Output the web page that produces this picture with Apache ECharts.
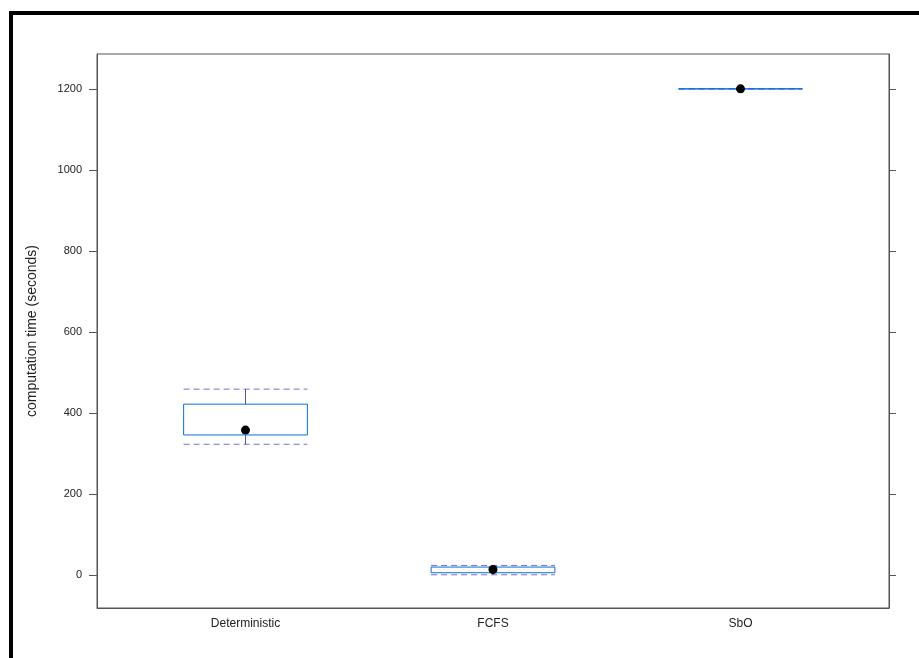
<!DOCTYPE html>
<html>
<head>
<meta charset="utf-8">
<script src="https://cdn.jsdelivr.net/npm/echarts@6/dist/echarts.min.js"></script>
<style>
html,body{margin:0;padding:0;background:#fff;}
#chart{width:919px;height:658px;}
</style>
</head>
<body>
<div id="chart"></div>
<script>
const categories = ['Deterministic', 'FCFS', 'SbO'];
const whiskerLow = [323, 1, 1200];
const q1 = [346, 6, 1200];
const median = [358, 14, 1200];
const q3 = [422, 20, 1200];
const whiskerHigh = [459, 24, 1200];
const yTicks = [0, 200, 400, 600, 800, 1000, 1200];

const boxData = categories.map((c, i) => [i + 1, whiskerLow[i], q1[i], median[i], q3[i], whiskerHigh[i]]);

const chart = echarts.init(document.getElementById('chart'));
const AX = '#555';
const FONT = 'Liberation Sans, Arial, sans-serif';
const option = {
  backgroundColor: '#fff',
  animation: false,
  grid: { left: 97, right: 30, top: 54, bottom: 50, show: true, borderColor: AX, borderWidth: 1, backgroundColor: 'transparent' },
  graphic: [
    { type: 'rect', shape: { x: 9, y: 11, width: 910, height: 4 }, style: { fill: '#000' }, z: 100 },
    { type: 'rect', shape: { x: 9, y: 11, width: 4, height: 647 }, style: { fill: '#000' }, z: 100 }
  ],
  xAxis: {
    type: 'value', min: 0.4, max: 3.6,
    axisLine: { show: true, onZero: false, lineStyle: { color: AX } },
    axisTick: { show: false },
    splitLine: { show: false },
    axisLabel: {
      customValues: [1, 2, 3],
      formatter: v => categories[Math.round(v) - 1] || '',
      color: '#222', fontSize: 12, margin: 10, fontFamily: FONT
    }
  },
  yAxis: [
    {
      type: 'value', min: -81, max: 1286, position: 'left',
      name: 'computation time (seconds)', nameLocation: 'middle', nameGap: 58, nameRotate: 90,
      nameTextStyle: { color: '#222', fontSize: 14, fontFamily: FONT },
      axisLine: { show: true, onZero: false, lineStyle: { color: AX } },
      axisTick: { show: true, customValues: yTicks, length: 8, lineStyle: { color: AX } },
      axisLabel: { customValues: yTicks, formatter: v => String(v), color: '#222', fontSize: 11, margin: 15, fontFamily: FONT },
      splitLine: { show: false }
    },
    {
      type: 'value', min: -81, max: 1286, position: 'right',
      axisLine: { show: true, onZero: false, lineStyle: { color: AX } },
      axisTick: { show: true, customValues: yTicks, length: 7, lineStyle: { color: AX } },
      axisLabel: { show: false, customValues: yTicks },
      splitLine: { show: false }
    }
  ],
  series: [{
    type: 'custom',
    xAxisIndex: 0, yAxisIndex: 0,
    data: boxData,
    encode: { x: 0, y: [1, 2, 3, 4, 5] },
    renderItem: function (params, api) {
      const x = api.value(0);
      const hw = 0.25;
      const pLow = api.coord([x, api.value(1)]);
      const pQ1 = api.coord([x, api.value(2)]);
      const pMed = api.coord([x, api.value(3)]);
      const pQ3 = api.coord([x, api.value(4)]);
      const pHigh = api.coord([x, api.value(5)]);
      const xl = api.coord([x - hw, api.value(3)])[0];
      const xr = api.coord([x + hw, api.value(3)])[0];
      const cx = pMed[0];
      const dashStyle = { stroke: '#7f6ad6', lineWidth: 1, lineDash: [6, 4], fill: null };
      const whiskStyle = { stroke: '#4a5f8a', lineWidth: 1, fill: null };
      return {
        type: 'group',
        children: [
          { type: 'line', shape: { x1: xl, y1: pHigh[1], x2: xr, y2: pHigh[1] }, style: dashStyle },
          { type: 'line', shape: { x1: xl, y1: pLow[1], x2: xr, y2: pLow[1] }, style: dashStyle },
          { type: 'line', shape: { x1: cx, y1: pQ3[1], x2: cx, y2: pHigh[1] }, style: whiskStyle },
          { type: 'line', shape: { x1: cx, y1: pQ1[1], x2: cx, y2: pLow[1] }, style: whiskStyle },
          { type: 'rect', shape: { x: xl, y: pQ3[1], width: xr - xl, height: pQ1[1] - pQ3[1] }, style: { stroke: '#0a6fd8', lineWidth: 1, fill: null } },
          { type: 'circle', shape: { cx: cx, cy: pMed[1], r: 4.5 }, style: { fill: '#000' } }
        ]
      };
    }
  }]
};
chart.setOption(option);
</script>
</body>
</html>
